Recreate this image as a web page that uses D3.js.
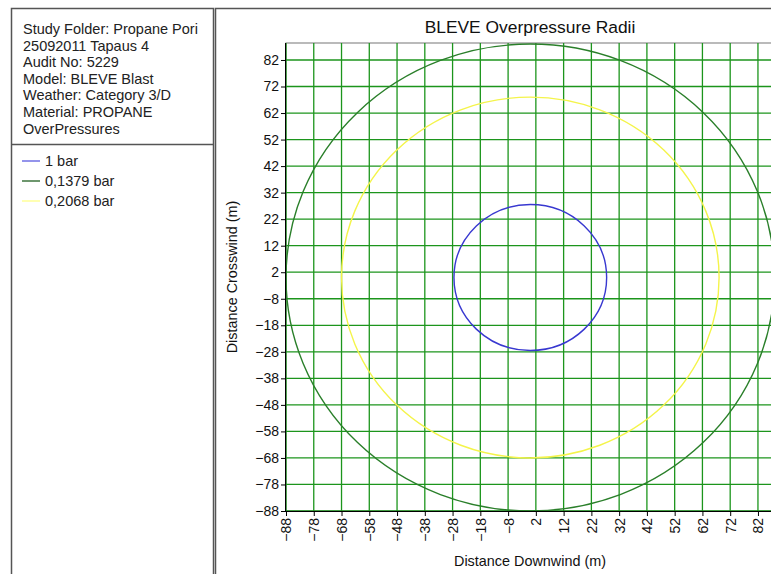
<!DOCTYPE html>
<html>
<head>
<meta charset="utf-8">
<script src="https://cdn.jsdelivr.net/npm/d3@7"></script>
<style>
  body { margin: 0; background: #fff; }
  svg { font-family: "Liberation Sans", Arial, sans-serif; display: block; }
</style>
</head>
<body>
<script>
// header text of the info panel
var infoLines = [
  "Study Folder: Propane Pori",
  "25092011 Tapaus 4",
  "Audit No: 5229",
  "Model: BLEVE Blast",
  "Weather: Category 3/D",
  "Material: PROPANE",
  "OverPressures"
];

// overpressure levels and their radii (m)
var levels = ["1 bar", "0,1379 bar", "0,2068 bar"];
var radii = [27.5, 88, 68];
var lineColors = ["#3838d0", "#2a7f2a", "#f4f44a"];
var legendColors = ["#5a5ae0", "#1f5f1f", "#ffff88"];

// tick labels on both axes
var tickValues = [-88, -78, -68, -58, -48, -38, -28, -18, -8, 2, 12, 22, 32, 42, 52, 62, 72, 82];

var width = 771, height = 574;

var svg = d3.select("body").append("svg")
  .attr("width", width)
  .attr("height", height);

// left info panel
svg.append("rect")
  .attr("x", 11.5).attr("y", 8.5)
  .attr("width", 202).attr("height", 600)
  .attr("fill", "none").attr("stroke", "#555").attr("stroke-width", 1.5);
svg.append("line")
  .attr("x1", 11.5).attr("x2", 213.5)
  .attr("y1", 144.5).attr("y2", 144.5)
  .attr("stroke", "#555").attr("stroke-width", 1.5);

svg.append("g").selectAll("text")
  .data(infoLines)
  .enter().append("text")
  .attr("x", 23)
  .attr("y", function(d, i) { return 34 + i * 16.6; })
  .attr("font-size", 14.5)
  .attr("fill", "#222")
  .text(function(d) { return d; });

// legend
var legend = svg.append("g").selectAll("g")
  .data(levels)
  .enter().append("g")
  .attr("transform", function(d, i) { return "translate(0," + (161 + i * 20) + ")"; });
legend.append("line")
  .attr("x1", 22).attr("x2", 40)
  .attr("stroke", function(d, i) { return legendColors[i]; })
  .attr("stroke-width", 1.3);
legend.append("text")
  .attr("x", 45).attr("dy", "0.35em")
  .attr("font-size", 14.5)
  .attr("fill", "#222")
  .text(function(d) { return d; });

// right chart panel
svg.append("rect")
  .attr("x", 215.5).attr("y", 8.5)
  .attr("width", 600).attr("height", 600)
  .attr("fill", "none").attr("stroke", "#555").attr("stroke-width", 1.5);

svg.append("text")
  .attr("x", 530).attr("y", 33)
  .attr("text-anchor", "middle")
  .attr("font-size", 17.4)
  .attr("fill", "#111")
  .text("BLEVE Overpressure Radii");

// scales
var x = d3.scaleLinear().domain([-88, 88.5]).range([286, 776]);
var y = d3.scaleLinear().domain([-88, 88.4]).range([511, 43]);

var plot = svg.append("g");

// plot frame
plot.append("rect")
  .attr("x", x(-88)).attr("y", y(88.4))
  .attr("width", x(88.5) - x(-88)).attr("height", y(-88) - y(88.4))
  .attr("fill", "none").attr("stroke", "#777").attr("stroke-width", 1);

// grid
plot.append("g").selectAll("line")
  .data(tickValues)
  .enter().append("line")
  .attr("x1", function(d) { return x(d); }).attr("x2", function(d) { return x(d); })
  .attr("y1", y(88.4)).attr("y2", y(-88))
  .attr("stroke", "#1c951c").attr("stroke-width", 1.3);
plot.append("g").selectAll("line")
  .data(tickValues)
  .enter().append("line")
  .attr("y1", function(d) { return y(d); }).attr("y2", function(d) { return y(d); })
  .attr("x1", x(-88)).attr("x2", x(88.5))
  .attr("stroke", "#1c951c").attr("stroke-width", 1.3);

// overpressure contours
plot.append("g").selectAll("ellipse")
  .data(radii)
  .enter().append("ellipse")
  .attr("cx", x(0)).attr("cy", y(0))
  .attr("rx", function(d) { return x(d) - x(0); })
  .attr("ry", function(d) { return y(0) - y(d); })
  .attr("fill", "none")
  .attr("stroke", function(d, i) { return lineColors[i]; })
  .attr("stroke-width", 1.4);

// axes
var xAxis = d3.axisBottom(x).tickValues(tickValues).tickSize(5).tickSizeOuter(0);
var yAxis = d3.axisLeft(y).tickValues(tickValues).tickSize(5).tickSizeOuter(0);

var gx = svg.append("g")
  .attr("transform", "translate(0," + y(-88) + ")")
  .call(xAxis);
gx.select(".domain").attr("stroke", "#000").attr("d", "M" + x(-88) + ",0.5H" + x(88.5));
gx.selectAll("text")
  .attr("font-size", 14)
  .attr("font-family", "Liberation Sans, Arial, sans-serif")
  .attr("fill", "#111")
  .attr("transform", "rotate(-90)")
  .attr("text-anchor", "end")
  .attr("x", -7).attr("y", 0).attr("dy", "0.35em");

var gy = svg.append("g")
  .attr("transform", "translate(" + x(-88) + ",0)")
  .call(yAxis);
gy.select(".domain").attr("stroke", "#000").attr("d", "M-0.5," + y(88.4) + "V" + y(-88));
gy.selectAll("text")
  .attr("font-size", 14)
  .attr("font-family", "Liberation Sans, Arial, sans-serif")
  .attr("fill", "#111")
  .attr("x", -7);

// axis titles
svg.append("text")
  .attr("x", 530).attr("y", 566)
  .attr("text-anchor", "middle")
  .attr("font-size", 14.4)
  .attr("fill", "#111")
  .text("Distance Downwind (m)");
svg.append("text")
  .attr("transform", "translate(237,277) rotate(-90)")
  .attr("text-anchor", "middle")
  .attr("font-size", 14.4)
  .attr("fill", "#111")
  .text("Distance Crosswind (m)");
</script>
</body>
</html>
